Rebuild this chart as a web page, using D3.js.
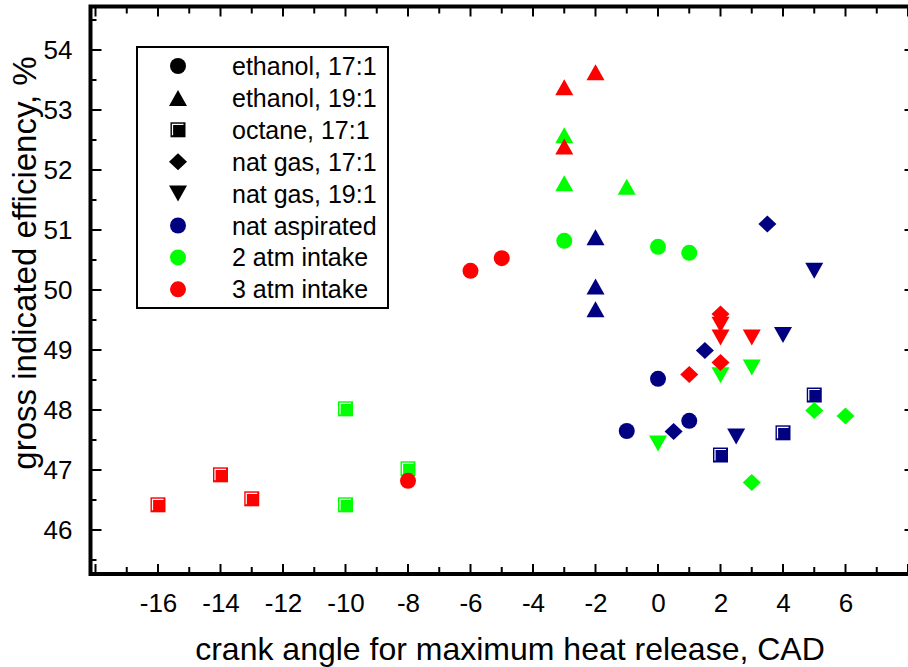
<!DOCTYPE html>
<html>
<head>
<meta charset="utf-8">
<script src="https://cdn.jsdelivr.net/npm/d3@7"></script>
<style>
html,body{margin:0;padding:0;background:#fff;}
svg{display:block;font-family:Arial,"Liberation Sans",sans-serif;}
</style>
</head>
<body>
<svg id="chart" width="908" height="667"></svg>
<script>
// ---- data (x = crank angle CAD, y = gross indicated efficiency %, i = intake index) ----
const intakes = ["nat aspirated", "2 atm intake", "3 atm intake"];
const fuels = ["ethanol, 17:1", "ethanol, 19:1", "octane, 17:1", "nat gas, 17:1", "nat gas, 19:1"];

const ethanol17 = [
  {x:-1, y:47.65, i:0}, {x:0, y:48.52, i:0}, {x:1, y:47.82, i:0},
  {x:-3, y:50.82, i:1}, {x:0, y:50.72, i:1}, {x:1, y:50.62, i:1},
  {x:-6, y:50.32, i:2}, {x:-5, y:50.53, i:2}, {x:-8, y:46.82, i:2}
];
const ethanol19 = [
  {x:-2, y:50.88, i:0}, {x:-2, y:50.06, i:0}, {x:-2, y:49.68, i:0},
  {x:-3, y:52.58, i:1}, {x:-3, y:51.78, i:1}, {x:-1, y:51.72, i:1},
  {x:-3, y:53.38, i:2}, {x:-2, y:53.63, i:2}, {x:-3, y:52.39, i:2}
];
const octane17 = [
  {x:5, y:48.25, i:0}, {x:4, y:47.62, i:0}, {x:2, y:47.25, i:0},
  {x:-10, y:48.02, i:1}, {x:-10, y:46.42, i:1}, {x:-8, y:47.02, i:1},
  {x:-16, y:46.42, i:2}, {x:-14, y:46.92, i:2}, {x:-13, y:46.52, i:2}
];
const natgas17 = [
  {x:1.5, y:48.99, i:0}, {x:0.5, y:47.64, i:0}, {x:3.5, y:51.10, i:0},
  {x:5, y:47.99, i:1}, {x:6, y:47.90, i:1}, {x:3, y:46.79, i:1},
  {x:2, y:49.60, i:2}, {x:2, y:48.79, i:2}, {x:1, y:48.59, i:2}
];
const natgas19 = [
  {x:5, y:50.32, i:0}, {x:4, y:49.25, i:0}, {x:2.5, y:47.56, i:0},
  {x:3, y:48.71, i:1}, {x:2, y:48.58, i:1}, {x:0, y:47.44, i:1},
  {x:2, y:49.42, i:2}, {x:2, y:49.21, i:2}, {x:3, y:49.21, i:2}
];
const xTicks = [-16, -14, -12, -10, -8, -6, -4, -2, 0, 2, 4, 6];
const yTicks = [46, 47, 48, 49, 50, 51, 52, 53, 54];

// ---- styles ----
const colors = ["#000080", "#00ff00", "#ff0000"];
const svg = d3.select("#chart");
const x = d3.scaleLinear().domain([-18.16, 8.24]).range([90.5, 915.5]);
const y = d3.scaleLinear().domain([45.267, 54.725]).range([574, 6.5]);

// marker paths (relative to center)
const shapePath = {
  circle: "M-8,0A8,8 0 1,0 8,0A8,8 0 1,0 -8,0Z",
  up: "M0,-8L9,8L-9,8Z",
  down: "M0,8L9,-8L-9,-8Z",
  diamond: "M0,-8.5L9,0L0,8.5L-9,0Z",
  square: "M-7.5,-7.5H7.5V7.5H-7.5Z"
};
const fuelShape = ["circle", "up", "square", "diamond", "down"];

function drawMarker(g, shape, cx, cy, fill) {
  const m = g.append("g").attr("transform", `translate(${cx},${cy})`);
  m.append("path").attr("d", shapePath[shape]).attr("fill", fill);
  if (shape === "square") {
    m.append("path").attr("d", "M-5.5,5.5V-5.5H5.5")
      .attr("fill", "none").attr("stroke", "#fff").attr("stroke-width", 1.2);
  }
}

// ---- axes frame ----
const axG = svg.append("g");
const [x0, x1] = x.range();
const [yb, yt] = y.range();

// ticks
const minorX = d3.range(-18, 9, 1);
minorX.forEach(v => {
  const len = (v % 2 === 0) ? 10 : 7;
  axG.append("line").attr("x1", x(v)).attr("x2", x(v)).attr("y1", yb).attr("y2", yb - len)
    .attr("stroke", "#000").attr("stroke-width", 2);
  axG.append("line").attr("x1", x(v)).attr("x2", x(v)).attr("y1", yt).attr("y2", yt + len)
    .attr("stroke", "#000").attr("stroke-width", 2);
});
const minorY = d3.range(45.5, 54.75, 0.5);
minorY.forEach(v => {
  const len = Number.isInteger(v) ? 11 : 6;
  axG.append("line").attr("x1", x0).attr("x2", x0 + len).attr("y1", y(v)).attr("y2", y(v))
    .attr("stroke", "#000").attr("stroke-width", 2);
  axG.append("line").attr("x1", x1).attr("x2", x1 - len).attr("y1", y(v)).attr("y2", y(v))
    .attr("stroke", "#000").attr("stroke-width", 2);
});

// tick labels via d3 axes (lines hidden)
const xAxis = svg.append("g").attr("transform", `translate(0,${yb})`)
  .call(d3.axisBottom(x).tickValues(xTicks).tickSize(0).tickPadding(20).tickFormat(d => d < 0 ? "-" + Math.abs(d) : d));
xAxis.select(".domain").remove();
xAxis.selectAll("text").attr("font-size", 26).attr("font-family", "Arial, 'Liberation Sans', sans-serif").attr("fill", "#000");

const yAxis = svg.append("g").attr("transform", `translate(${x0},0)`)
  .call(d3.axisLeft(y).tickValues(yTicks).tickSize(0).tickPadding(18).tickFormat(d3.format("d")));
yAxis.select(".domain").remove();
yAxis.selectAll("text").attr("font-size", 26).attr("font-family", "Arial, 'Liberation Sans', sans-serif").attr("fill", "#000");

// frame
axG.append("rect").attr("x", x0).attr("y", yt).attr("width", x1 - x0).attr("height", yb - yt)
  .attr("fill", "none").attr("stroke", "#000").attr("stroke-width", 4);

// titles
svg.append("text").attr("x", 510).attr("y", 660).attr("text-anchor", "middle")
  .attr("font-size", 32).text("crank angle for maximum heat release, CAD");
svg.append("text").attr("transform", "translate(36,263) rotate(-90)").attr("text-anchor", "middle")
  .attr("font-size", 33).text("gross indicated efficiency, %");

// ---- points ----
const ptsG = svg.append("g");
const drawOrder = [[octane17, 2], [natgas19, 4], [natgas17, 3], [ethanol19, 1], [ethanol17, 0]];
drawOrder.forEach(([arr, fi]) => {
  [0, 1, 2].forEach(ii => {
    arr.filter(d => d.i === ii).forEach(d => drawMarker(ptsG, fuelShape[fi], x(d.x), y(d.y), colors[ii]));
  });
});

// ---- legend ----
const lg = svg.append("g");
lg.append("rect").attr("x", 137).attr("y", 47).attr("width", 251).attr("height", 261)
  .attr("fill", "#fff").attr("stroke", "#000").attr("stroke-width", 2);
const legendItems = fuels.map((f, k) => ({label: f, shape: fuelShape[k], color: "#000"}))
  .concat(intakes.map((t, k) => ({label: t, shape: "circle", color: colors[k]})));
legendItems.forEach((it, k) => {
  const cy = 66 + k * 31.9;
  drawMarker(lg, it.shape, 178, cy, it.color);
  lg.append("text").attr("x", 232).attr("y", cy + 9).attr("font-size", 25).text(it.label);
});
</script>
</body>
</html>
